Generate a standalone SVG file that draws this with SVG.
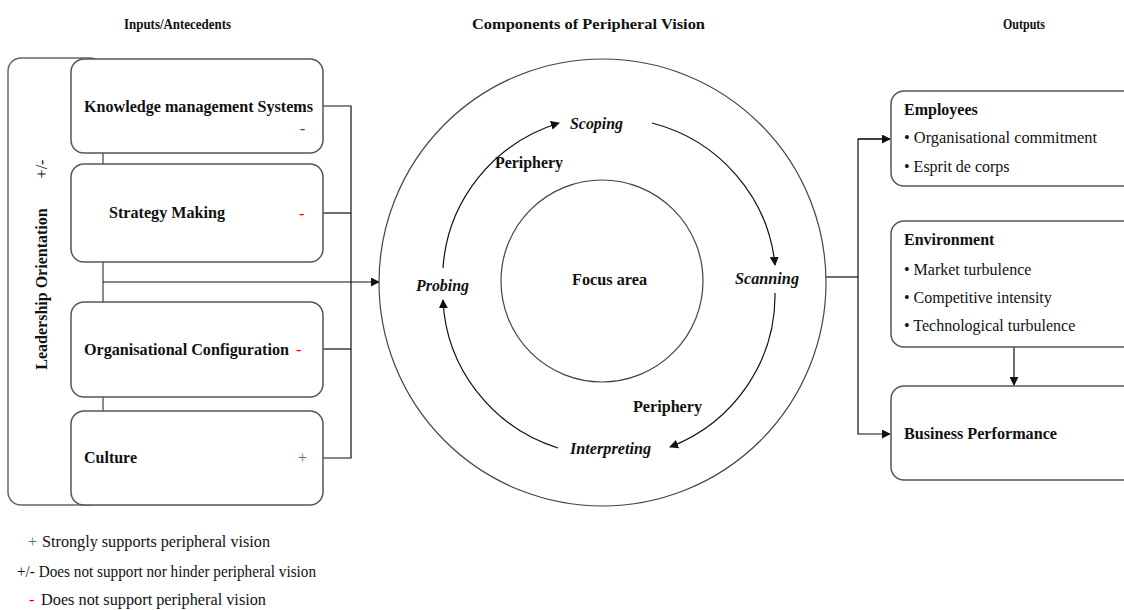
<svg xmlns="http://www.w3.org/2000/svg" width="1124" height="610" viewBox="0 0 1124 610">
  <style>
    text { font-family: "Liberation Serif", "Times New Roman", serif; font-size: 16px; fill: #111; }
    .b { font-weight: bold; }
    .bi { font-weight: bold; font-style: italic; }
    .hdr { font-size: 14px; }
    .box { fill: #fff; stroke: #555; stroke-width: 1.5; }
    .ln { fill: none; stroke: #111; stroke-width: 1.2; }
    .ring { fill: none; stroke: #444; stroke-width: 1.2; }
    .red { fill: #e00000; }
    .green { fill: #2a9d2a; }
  </style>
  <defs>
    <marker id="arr" viewBox="0 0 10 10" refX="9" refY="5" markerWidth="9" markerHeight="9" markerUnits="userSpaceOnUse" orient="auto">
      <path d="M0,0 L10,5 L0,10 z" fill="#111"/>
    </marker>
  </defs>
  <rect width="1124" height="610" fill="#fff"/>

  <!-- column headings -->
  <g id="headings">
    <text class="hdr b" x="124" y="29" textLength="107" lengthAdjust="spacingAndGlyphs">Inputs/Antecedents</text>
    <text class="hdr b" x="472" y="29" textLength="233" lengthAdjust="spacingAndGlyphs">Components of  Peripheral Vision</text>
    <text class="hdr b" x="1003" y="29" textLength="42" lengthAdjust="spacingAndGlyphs">Outputs</text>
  </g>

  <!-- leadership frame: its right edge runs between the input boxes -->
  <g id="leadership">
    <rect x="8" y="58" width="95" height="447" rx="13" fill="none" stroke="#666" stroke-width="1.5"/>
    <text class="b" transform="translate(47,289) rotate(-90)" text-anchor="middle">Leadership Orientation</text>
    <text transform="translate(47,169) rotate(-90)" text-anchor="middle">+/-</text>
  </g>

  <!-- connectors -->
  <g id="connectors">
    <line class="ln" x1="103" y1="282" x2="379" y2="282" marker-end="url(#arr)"/>
    <polyline class="ln" points="323,106 351,106 351,458 323,458"/>
    <line class="ln" x1="323" y1="213" x2="351" y2="213"/>
    <line class="ln" x1="323" y1="349" x2="351" y2="349"/>
    <line class="ln" x1="826" y1="277" x2="858" y2="277"/>
    <polyline class="ln" points="890,139 858,139 858,434 890,434" marker-end="url(#arr)"/>
    <line class="ln" x1="858" y1="139" x2="890" y2="139" marker-end="url(#arr)"/>
    <line class="ln" x1="1014" y1="347" x2="1014" y2="385" marker-end="url(#arr)"/>
    <!-- cycle arcs -->
    <path class="ln" d="M443,268 A166,163 0 0 1 559,123" marker-end="url(#arr)"/>
    <path class="ln" d="M652,123 A166,163 0 0 1 775,265" marker-end="url(#arr)"/>
    <path class="ln" d="M775,293 A166,163 0 0 1 670,447" marker-end="url(#arr)"/>
    <path class="ln" d="M558,448 A166,163 0 0 1 443,300" marker-end="url(#arr)"/>
  </g>

  <!-- input boxes -->
  <g id="kms">
    <rect class="box" x="71" y="59" width="252" height="94" rx="13"/>
    <text class="b" x="84" y="112" textLength="229" lengthAdjust="spacingAndGlyphs">Knowledge management Systems</text>
    <text class="red" x="300" y="134">-</text>
  </g>
  <g id="strategy">
    <rect class="box" x="71" y="164" width="252" height="98" rx="13"/>
    <text class="b" x="109" y="218" textLength="116" lengthAdjust="spacingAndGlyphs">Strategy Making</text>
    <text class="red" x="299" y="219">-</text>
  </g>
  <g id="configuration">
    <rect class="box" x="71" y="302" width="252" height="95" rx="13"/>
    <text class="b" x="84" y="355" textLength="205" lengthAdjust="spacingAndGlyphs">Organisational Configuration</text>
    <text class="red" x="296" y="355">-</text>
  </g>
  <g id="culture">
    <rect class="box" x="71" y="411" width="252" height="94" rx="13"/>
    <text class="b" x="84" y="463" textLength="53" lengthAdjust="spacingAndGlyphs">Culture</text>
    <text class="green" x="298" y="463">+</text>
  </g>

  <!-- peripheral vision rings -->
  <g id="vision">
    <circle class="ring" cx="602.5" cy="282.5" r="223.5"/>
    <circle class="ring" cx="602" cy="281" r="101"/>
    <text class="b" x="572" y="285" textLength="75" lengthAdjust="spacingAndGlyphs">Focus area</text>
    <text class="b" x="495" y="168" textLength="68" lengthAdjust="spacingAndGlyphs">Periphery</text>
    <text class="b" x="633" y="412" textLength="69" lengthAdjust="spacingAndGlyphs">Periphery</text>
  </g>
  <g id="scoping"><text class="bi" x="570" y="129" textLength="53" lengthAdjust="spacingAndGlyphs">Scoping</text></g>
  <g id="scanning"><text class="bi" x="735" y="284" textLength="64" lengthAdjust="spacingAndGlyphs">Scanning</text></g>
  <g id="interpreting"><text class="bi" x="570" y="454" textLength="81" lengthAdjust="spacingAndGlyphs">Interpreting</text></g>
  <g id="probing"><text class="bi" x="416" y="291" textLength="53" lengthAdjust="spacingAndGlyphs">Probing</text></g>

  <!-- output boxes -->
  <g id="employees">
    <rect class="box" x="891" y="91" width="260" height="95" rx="13"/>
    <text class="b" x="904" y="115">Employees</text>
    <text x="904" y="143" textLength="193" lengthAdjust="spacingAndGlyphs">• Organisational commitment</text>
    <text x="904" y="172">• Esprit de corps</text>
  </g>
  <g id="environment">
    <rect class="box" x="891" y="221" width="260" height="126" rx="13"/>
    <text class="b" x="904" y="245">Environment</text>
    <text x="904" y="275">• Market turbulence</text>
    <text x="904" y="303">• Competitive intensity</text>
    <text x="904" y="331">• Technological turbulence</text>
  </g>
  <g id="performance">
    <rect class="box" x="891" y="386" width="260" height="94" rx="13"/>
    <text class="b" x="904" y="439" textLength="153" lengthAdjust="spacingAndGlyphs">Business Performance</text>
  </g>

  <!-- legend -->
  <g id="legend">
    <text class="green" x="28" y="547">+</text>
    <text x="42" y="547" textLength="228" lengthAdjust="spacingAndGlyphs">Strongly supports peripheral vision</text>
    <text x="17" y="577" textLength="299" lengthAdjust="spacingAndGlyphs">+/- Does not support nor hinder peripheral vision</text>
    <text class="red" x="29" y="605">-</text>
    <text x="41" y="605" textLength="225" lengthAdjust="spacingAndGlyphs">Does not support peripheral vision</text>
  </g>
</svg>
